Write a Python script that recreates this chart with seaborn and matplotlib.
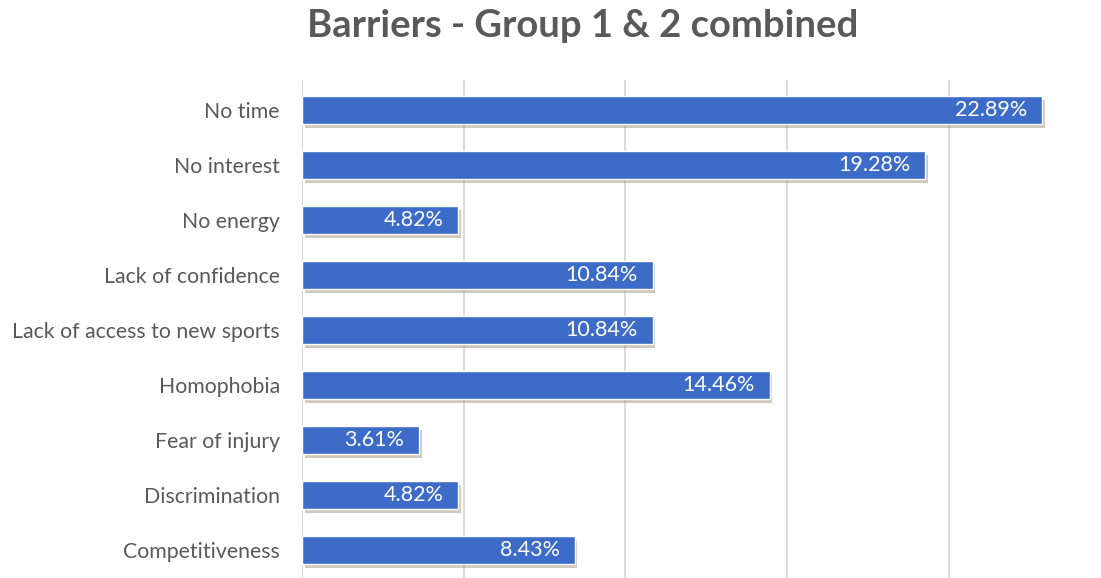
import matplotlib
matplotlib.use("Agg")
import matplotlib.pyplot as plt
import matplotlib.patheffects as pe
import seaborn as sns
import pandas as pd

barriers = [
    "No time",
    "No interest",
    "No energy",
    "Lack of confidence",
    "Lack of access to new sports",
    "Homophobia",
    "Fear of injury",
    "Discrimination",
    "Competitiveness",
]
shares = [22.89, 19.28, 4.82, 10.84, 10.84, 14.46, 3.61, 4.82, 8.43]
grid_ticks = [0, 5, 10, 15, 20]

df = pd.DataFrame({"barrier": barriers, "share": shares})

sns.set_theme(style="white")
plt.rcParams["font.family"] = ["Lato", "DejaVu Sans"]

fig = plt.figure(figsize=(11.01, 5.78), dpi=100)
ax = fig.add_axes([302 / 1101, 0.0, 1 - 302 / 1101, 1 - 80 / 578])

sns.barplot(data=df, x="share", y="barrier", order=barriers, color="#3D6CC8",
            width=0.5, saturation=1, ax=ax, zorder=3)

for patch in ax.patches:
    patch.set_path_effects([
        pe.SimplePatchShadow(offset=(2, -3), shadow_rgbFace="#8a7a60", alpha=0.4),
        pe.Normal(),
    ])

ax.set_xlim(0, 24.71)
ax.set_ylim(8.51, -0.545)
ax.set_xticks(grid_ticks)
ax.set_xticklabels([])
ax.grid(axis="x", color="#d4d4d4", linewidth=1.2, zorder=0)
ax.grid(axis="y", visible=False)
for s in ax.spines.values():
    s.set_visible(False)
ax.set_xlabel("")
ax.set_ylabel("")
ax.tick_params(axis="y", length=0, pad=16, labelsize=15.3, labelcolor="#595959")
ax.tick_params(axis="x", length=0)

for i, v in enumerate(shares):
    ax.text(v - 0.45, i, f"{v:.2f}%", ha="right", va="center",
            color="white", fontsize=15.5, zorder=4)

fig.text(0.529, 0.955, "Barriers - Group 1 & 2 combined", ha="center", va="center",
         fontsize=27.5, fontweight="bold", color="#595959")

fig.savefig("out.png", dpi=100)
